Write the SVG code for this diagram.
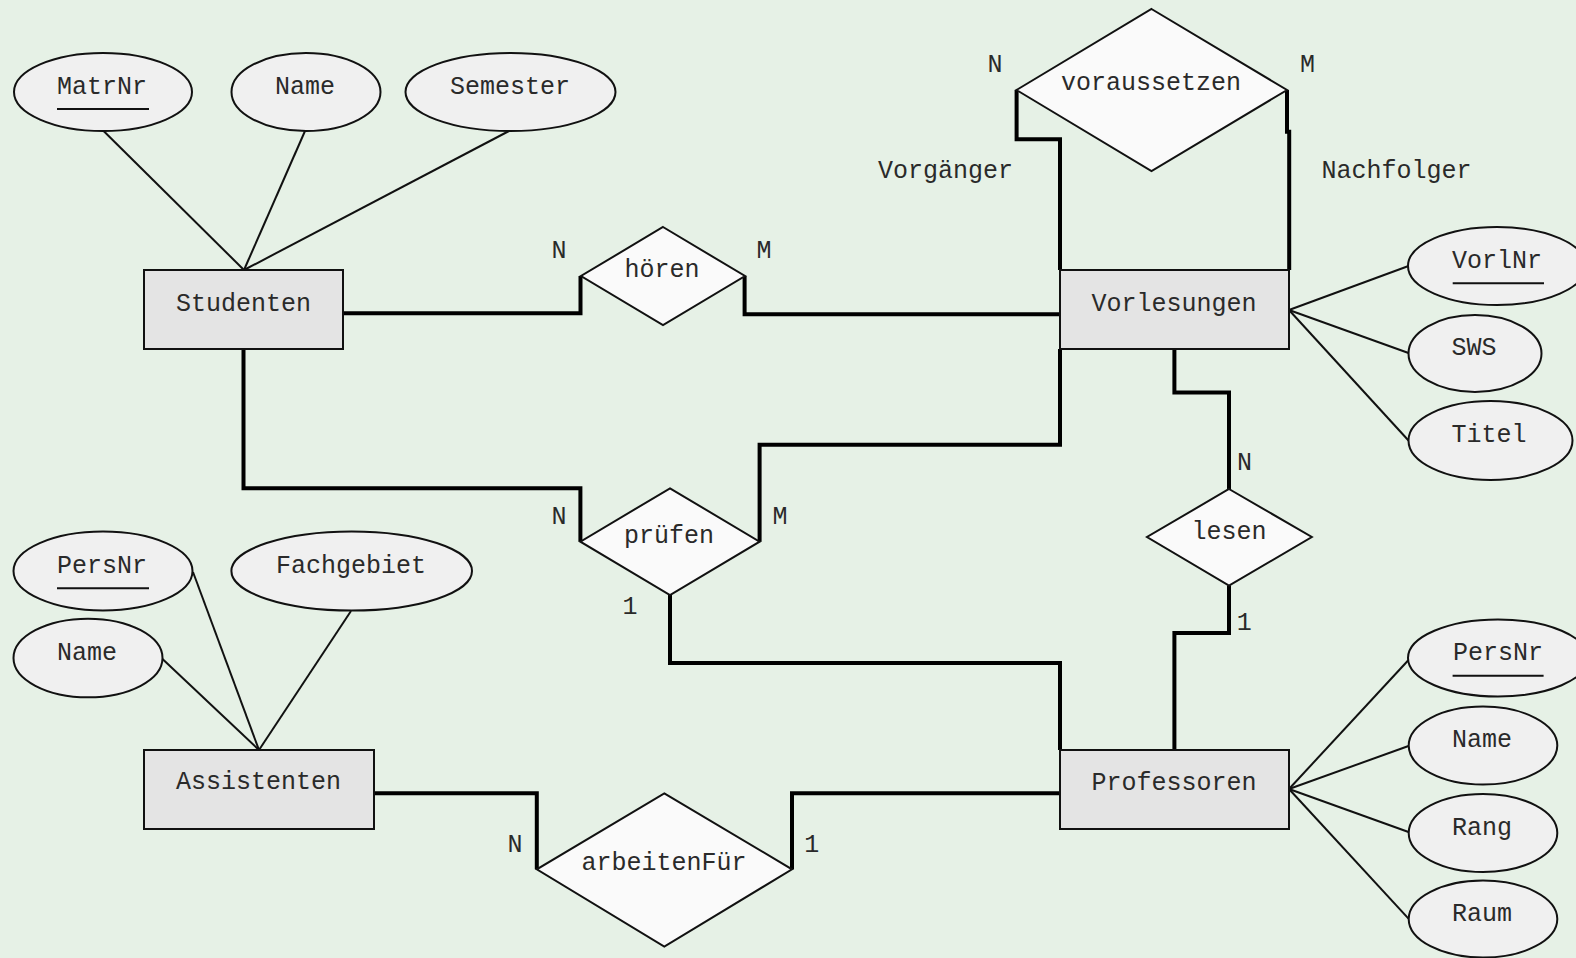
<svg xmlns="http://www.w3.org/2000/svg" width="1576" height="958" viewBox="0 0 1576 958">
<style>
.bg{fill:#e6f1e6}
.ent{fill:#e4e4e4;stroke:#111;stroke-width:2}
.attr{fill:#f0f0f0;stroke:#111;stroke-width:2}
.rel{fill:#fafafa;stroke:#111;stroke-width:2}
.thick{fill:none;stroke:#000;stroke-width:4}
.thin{fill:none;stroke:#111;stroke-width:2}
.ul{stroke:#111;stroke-width:2}
text{font-family:"Liberation Mono","Courier New",monospace;font-size:25px;fill:#2a2a2a;text-anchor:middle}
</style>
<rect class="bg" x="0" y="0" width="1576" height="958"/>
<g id="connectors">
<line class="thin" x1="103.6" y1="131" x2="244" y2="270"/>
<line class="thin" x1="305" y1="131" x2="244" y2="270"/>
<line class="thin" x1="509" y1="131" x2="244" y2="270"/>
<line class="thin" x1="1289" y1="310" x2="1408.5" y2="266"/>
<line class="thin" x1="1289" y1="310" x2="1408.5" y2="353"/>
<line class="thin" x1="1289" y1="310" x2="1408.5" y2="440.5"/>
<line class="thin" x1="1289" y1="789" x2="1408.5" y2="660"/>
<line class="thin" x1="1289" y1="789" x2="1408.5" y2="746"/>
<line class="thin" x1="1289" y1="789" x2="1408.5" y2="832"/>
<line class="thin" x1="1289" y1="789" x2="1408.5" y2="918.6"/>
<line class="thin" x1="193" y1="572" x2="259" y2="750"/>
<line class="thin" x1="162.5" y1="659" x2="259" y2="750"/>
<line class="thin" x1="351" y1="611" x2="259" y2="750"/>
<path class="thick" d="M343,313.3 H580.5 V276"/>
<path class="thick" d="M744.6,276 V314.3 H1060"/>
<path class="thick" d="M243.5,349 V488.3 H580.4 V541.7"/>
<path class="thick" d="M1060,349 V444.8 H759.6 V541.7"/>
<path class="thick" d="M670,595 V663 H1060 V750"/>
<path class="thick" d="M1174.4,349 V392.4 H1229 V489"/>
<path class="thick" d="M1229,585.6 V632.9 H1174.4 V750"/>
<path class="thick" d="M374,793.3 H536.8 V869.3"/>
<path class="thick" d="M792,869.3 V793.3 H1060"/>
<path class="thick" d="M1016.6,90 V139.3 H1060 V270"/>
<path class="thick" d="M1287,90 V131.7 H1289.2 V270"/>
</g>
<g id="labels">
<text x="559" y="258">N</text>
<text x="764" y="258">M</text>
<text x="559" y="524">N</text>
<text x="780" y="524">M</text>
<text x="630" y="614">1</text>
<text x="995" y="72">N</text>
<text x="1307.5" y="72">M</text>
<text x="945.5" y="178">Vorgänger</text>
<text x="1396.5" y="178">Nachfolger</text>
<text x="1244.5" y="470">N</text>
<text x="1244.3" y="629.5">1</text>
<text x="515" y="852">N</text>
<text x="811.7" y="852">1</text>
</g>
<g id="Studenten"><rect class="ent" x="144" y="270" width="199" height="79"/><text x="243.5" y="311">Studenten</text></g>
<g id="S_MatrNr"><ellipse class="attr" cx="103" cy="92" rx="89" ry="39"/><text x="102" y="94">MatrNr</text><line class="ul" x1="57" y1="109" x2="149" y2="109"/></g>
<g id="S_Name"><ellipse class="attr" cx="306" cy="92" rx="74.5" ry="39"/><text x="305" y="94">Name</text></g>
<g id="S_Semester"><ellipse class="attr" cx="510.5" cy="92" rx="105" ry="39"/><text x="510" y="94">Semester</text></g>
<g id="Vorlesungen"><rect class="ent" x="1060" y="270" width="229" height="79"/><text x="1174" y="311">Vorlesungen</text></g>
<g id="V_VorlNr"><ellipse class="attr" cx="1497" cy="266" rx="89" ry="39"/><text x="1497" y="268">VorlNr</text><line class="ul" x1="1452.7" y1="283.3" x2="1544" y2="283.3"/></g>
<g id="V_SWS"><ellipse class="attr" cx="1475" cy="353.5" rx="66.5" ry="38.5"/><text x="1474" y="355">SWS</text></g>
<g id="V_Titel"><ellipse class="attr" cx="1490.5" cy="440.5" rx="82" ry="39.5"/><text x="1489" y="442">Titel</text></g>
<g id="Professoren"><rect class="ent" x="1060" y="750" width="229" height="79"/><text x="1174" y="790">Professoren</text></g>
<g id="P_PersNr"><ellipse class="attr" cx="1498" cy="658" rx="90" ry="38.5"/><text x="1498" y="660">PersNr</text><line class="ul" x1="1452.6" y1="675.8" x2="1543.6" y2="675.8"/></g>
<g id="P_Name"><ellipse class="attr" cx="1483" cy="745.6" rx="74.3" ry="39"/><text x="1482" y="747">Name</text></g>
<g id="P_Rang"><ellipse class="attr" cx="1483" cy="833" rx="74.3" ry="39"/><text x="1482" y="835">Rang</text></g>
<g id="P_Raum"><ellipse class="attr" cx="1483" cy="919" rx="74.3" ry="38.5"/><text x="1482" y="921">Raum</text></g>
<g id="Assistenten"><rect class="ent" x="144" y="750" width="230" height="79"/><text x="258.5" y="789">Assistenten</text></g>
<g id="A_PersNr"><ellipse class="attr" cx="103" cy="571" rx="89.5" ry="39.5"/><text x="102" y="573">PersNr</text><line class="ul" x1="57" y1="588.3" x2="149" y2="588.3"/></g>
<g id="A_Name"><ellipse class="attr" cx="88" cy="658" rx="74.5" ry="39.3"/><text x="87" y="660">Name</text></g>
<g id="A_Fachgebiet"><ellipse class="attr" cx="351.7" cy="571" rx="120.3" ry="39.5"/><text x="351" y="573">Fachgebiet</text></g>
<g id="hoeren"><polygon class="rel" points="663,227 745,276 663,325 581,276"/><text x="662" y="277">hören</text></g>
<g id="voraussetzen"><polygon class="rel" points="1151.5,9 1287,90 1151.5,171 1016.5,90"/><text x="1151" y="90">voraussetzen</text></g>
<g id="pruefen"><polygon class="rel" points="670,488.3 759.6,541.7 670,595 580.4,541.7"/><text x="669" y="543">prüfen</text></g>
<g id="lesen"><polygon class="rel" points="1229,489 1311.8,537 1229,585.6 1147,537"/><text x="1229" y="539">lesen</text></g>
<g id="arbeitenFuer"><polygon class="rel" points="664.3,793.3 792,869.3 664.3,946.7 536.8,869.3"/><text x="664" y="870">arbeitenFür</text></g>
</svg>
